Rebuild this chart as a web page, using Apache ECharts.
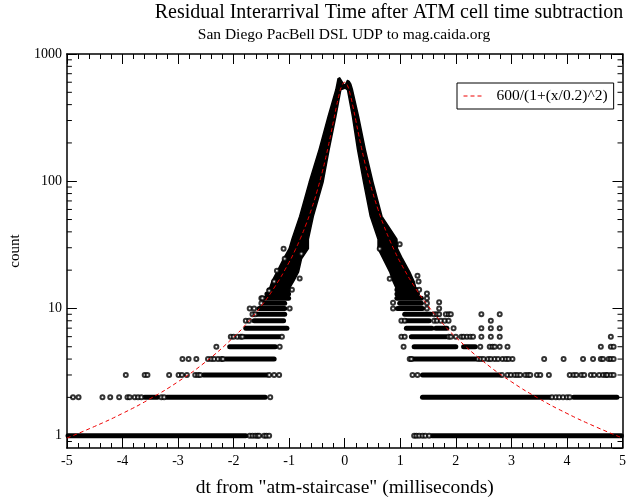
<!DOCTYPE html>
<html>
<head>
<meta charset="utf-8">
<script src="https://cdn.jsdelivr.net/npm/echarts@6/dist/echarts.min.js"></script>
<style>html,body{margin:0;padding:0;background:#fff}#c{width:629px;height:503px}</style>
</head>
<body>
<div id="c"></div>
<script>
// ---- axis ranges / ticks ----
const xMin = -5, xMax = 5, xStep = 1;
const yMin = 0.8, yMax = 1000;
const yMajorTicks = [1, 10, 100, 1000];
const yMinorTicks = [0.9, 2, 3, 4, 5, 6, 7, 8, 9, 20, 30, 40, 50, 60, 70, 80, 90, 200, 300, 400, 500, 600, 700, 800, 900];

// ---- dense rows of points: [xStart, xEnd, count] ----
const denseRows = [
  [-4.98, -1.78, 1], [1.57, 4.98, 1],
  [-3.60, -3.37, 2], [-3.20, -1.43, 2], [1.40, 3.69, 2], [4.12, 4.90, 2],
  [-2.54, -1.40, 3], [1.40, 2.79, 3],
  [-2.14, -1.27, 4], [1.22, 2.35, 4],
  [-2.07, -1.25, 5], [1.25, 2.00, 5], [2.14, 2.35, 5],
  [-1.80, -1.18, 6], [1.20, 1.82, 6],
  [-1.78, -1.04, 7], [1.11, 1.57, 7], [1.64, 1.84, 7],
  [-1.63, -1.10, 8], [1.11, 1.52, 8],
  [-1.57, -1.08, 9], [1.08, 1.55, 9],
  [-1.54, -1.08, 10], [0.95, 1.40, 10],
  [-1.45, -1.08, 11], [0.99, 1.38, 11],
  [-1.45, -1.01, 12], [0.94, 1.38, 12],
  [-1.40, -1.01, 13], [0.94, 1.31, 13],
  [-1.36, -1.01, 14], [0.94, 1.29, 14]
];

// ---- isolated points: x values per count level ----
const pts1 = [-1.71, -1.66, -1.61, -1.57, -1.54, -1.45, -1.41, -1.36, 1.25, 1.29, 1.34, 1.40, 1.45, 1.52];
const pts2 = [-4.89, -4.79, -4.36, -4.22, -4.06, -3.91, -3.87, -3.78, -3.72, -3.66, -3.30, -3.25, -1.34, 3.73, 3.80, 3.86, 3.93, 4.00, 4.05];
const pts3 = [-3.94, -3.60, -3.55, -3.16, -2.99, -2.93, -2.84, -2.69, -2.64, -2.60, -1.36, -1.27, -1.18,
  1.22, 1.31, 2.83, 2.93, 2.99, 3.06, 3.11, 3.16, 3.25, 3.30, 3.34, 3.46, 3.52, 3.675, 4.05, 4.12, 4.17, 4.26, 4.31, 4.43, 4.49, 4.58, 4.65, 4.70, 4.73, 4.79, 4.84];
const pts4 = [-2.92, -2.81, -2.67, -2.46, -2.40, -2.35, -2.28, -2.22, -2.19, 1.17, 1.20,
  2.40, 2.45, 2.50, 2.58, 2.63, 2.70, 2.76, 2.84, 2.90, 2.95, 3.02, 3.59, 3.94, 4.29, 4.47, 4.61, 4.65, 4.75, 4.79, 4.84];
const pts5 = [-2.31, -1.17, 1.06, 2.44, 2.61, 2.66, 2.70, 2.79, 2.93, 4.61, 4.79, 4.84];
const pts6 = [-2.05, -2.00, -1.93, -1.87, -1.84, -1.13, 1.02, 1.08, 1.87, 1.91, 2.00, 2.10, 2.14, 2.20, 2.26, 2.31, 2.46, 2.63, 2.79, 4.79];
const pts7 = [1.96, 2.46, 2.63, 2.79];
const pts8 = [-1.78, -1.72, 1.02, 1.08, 1.61, 1.66, 1.73, 1.80, 1.87, 2.63];
const pts9 = [-1.66, -1.61, 1.61, 1.66, 1.70, 1.82, 1.87, 1.91, 2.46, 2.79];
const pts10 = [-1.71, -1.63, -0.99, 0.87, 1.48, 1.70];
const pts11 = [-1.50, 1.48];
const pts12 = [-1.50, 1.48];
const pts14 = [-0.95, 1.34];
// scattered outliers along the flanks: [x, count]
const flankOutliers = [
  [-1.10, 29.5], [-0.78, 26.9], [-0.81, 17.2], [-1.36, 13.8], [-1.48, 12], [-1.22, 19.8], [-1.27, 16.3], [-1.08, 24.6],
  [1.31, 18.1], [1.33, 16.3], [1.48, 13.1], [1.70, 11.2], [0.87, 11.1], [0.81, 17.1], [0.63, 29.5], [0.99, 32]
];

// ---- outline of the dense central mass: [x, count] ----
const peakMass = [
  [-1.36, 14], [-1.31, 16.3], [-1.22, 19.4], [-1.10, 24.6], [-1.00, 29.5], [-0.95, 35], [-0.81, 53], [-0.64, 98],
  [-0.46, 178], [-0.30, 322], [-0.16, 523], [-0.12, 640], [-0.09, 650], [-0.02, 580], [0.01, 570], [0.05, 620], [0.08, 610],
  [0.11, 580], [0.14, 523], [0.25, 322], [0.37, 178], [0.51, 98], [0.67, 53], [0.94, 35], [0.95, 29.5], [1.04, 24.6],
  [1.17, 19.4], [1.25, 16.3], [1.29, 14], [0.94, 14], [0.87, 16.3], [0.81, 19.4], [0.69, 24.6], [0.60, 29.5], [0.60, 35],
  [0.46, 53], [0.34, 98], [0.23, 178], [0.14, 322], [0.05, 523], [0.01, 540], [-0.07, 523], [-0.16, 322], [-0.28, 178],
  [-0.39, 98], [-0.565, 53], [-0.654, 35], [-0.654, 29.5], [-0.777, 24.6], [-0.83, 19.4], [-0.92, 16.3], [-1.01, 14]
];

// ---- fitted curve 600/(1+(x/0.2)^2) sampled ----
const fitX = [-5, -4.5, -4, -3.5, -3, -2.5, -2, -1.75, -1.5, -1.25, -1, -0.9, -0.8, -0.7, -0.6, -0.5, -0.4, -0.35, -0.3, -0.25, -0.2, -0.15, -0.1, -0.05,
  0, 0.05, 0.1, 0.15, 0.2, 0.25, 0.3, 0.35, 0.4, 0.5, 0.6, 0.7, 0.8, 0.9, 1, 1.25, 1.5, 1.75, 2, 2.5, 3, 3.5, 4, 4.5, 5];
const fitY = [0.958, 1.183, 1.496, 1.953, 2.655, 3.816, 5.94, 7.74, 10.48, 14.98, 23.08, 28.24, 35.29, 45.28, 60, 82.76, 120, 147.7, 184.6, 234.1, 300, 384, 480, 564.7,
  600, 564.7, 480, 384, 300, 234.1, 184.6, 147.7, 120, 82.76, 60, 45.28, 35.29, 28.24, 23.08, 14.98, 10.48, 7.74, 5.94, 3.816, 2.655, 1.953, 1.496, 1.183, 0.958];

const fitName = '600/(1+(x/0.2)^2)';
const titleText = 'Residual Interarrival Time after ATM cell time subtraction';
const subText = 'San Diego PacBell DSL UDP to mag.caida.org';
const xName = 'dt from "atm-staircase" (milliseconds)';
const yName = 'count';

// ---- build ----
const FONT = 'Liberation Serif';
const isoPoints = [];
[[1, pts1], [2, pts2], [3, pts3], [4, pts4], [5, pts5], [6, pts6], [7, pts7], [8, pts8], [9, pts9], [10, pts10], [11, pts11], [12, pts12], [14, pts14]]
  .forEach(([c, arr]) => arr.forEach(x => isoPoints.push([x, c])));
flankOutliers.forEach(p => isoPoints.push(p));

const chart = echarts.init(document.getElementById('c'), null, {renderer: 'canvas'});

const xAxisBase = {
  type: 'value', min: xMin, max: xMax, interval: xStep,
  axisLine: {show: true, onZero: false, lineStyle: {color: '#000', width: 1.5}},
  axisTick: {show: true, inside: true, length: 10, lineStyle: {color: '#000', width: 1}},
  minorTick: {show: true, splitNumber: 5, length: 5, lineStyle: {color: '#000', width: 1}},
  splitLine: {show: false}, minorSplitLine: {show: false}
};
const yAxisBase = {
  type: 'log', logBase: 10, min: yMin, max: yMax,
  axisLine: {show: true, onZero: false, lineStyle: {color: '#000', width: 1.5}},
  axisTick: {show: true, inside: true, length: 10, lineStyle: {color: '#000', width: 1}},
  minorTick: {show: false},
  splitLine: {show: false}
};

const option = {
  animation: false,
  backgroundColor: '#fff',
  title: [
    {text: titleText, left: 389, top: 3, textAlign: 'center', padding: 0,
      textStyle: {fontFamily: FONT, fontSize: 20, fontWeight: 'normal', color: '#000'}},
    {text: subText, left: 344, top: 27, textAlign: 'center', padding: 0,
      textStyle: {fontFamily: FONT, fontSize: 15.5, fontWeight: 'normal', color: '#000'}}
  ],
  legend: {
    data: [fitName], left: 457, top: 83, orient: 'vertical',
    backgroundColor: '#fff', borderColor: '#000', borderWidth: 1, borderRadius: 0,
    padding: [5, 6, 5, 6], itemWidth: 20, itemHeight: 12,
    itemStyle: {opacity: 0, color: 'rgba(0,0,0,0)', borderWidth: 0},
    lineStyle: {width: 1},
    textStyle: {fontFamily: FONT, fontSize: 15.5, color: '#000', padding: [0, 0, 0, 8]}
  },
  grid: {left: 61, right: 3, top: 54, bottom: 53, containLabel: false},
  xAxis: [
    Object.assign({}, xAxisBase, {position: 'bottom',
      axisLabel: {show: true, margin: 6, fontFamily: FONT, fontSize: 14, color: '#000'},
      name: xName, nameLocation: 'middle', nameGap: 30,
      nameTextStyle: {fontFamily: FONT, fontSize: 19.5, color: '#000'}}),
    Object.assign({}, xAxisBase, {position: 'top', axisLabel: {show: false}})
  ],
  yAxis: [
    Object.assign({}, yAxisBase, {position: 'left',
      axisLabel: {show: true, margin: 5, showMinLabel: false, fontFamily: FONT, fontSize: 14, color: '#000',
        formatter: v => (yMajorTicks.indexOf(Math.round(v)) >= 0 && Math.abs(v - Math.round(v)) < 1e-6) ? String(Math.round(v)) : ''},
      name: yName, nameLocation: 'middle', nameGap: 40,
      nameTextStyle: {fontFamily: FONT, fontSize: 15, color: '#000'}}),
    Object.assign({}, yAxisBase, {position: 'right', axisLabel: {show: false}})
  ],
  series: [
    {
      name: 'rows', type: 'custom', coordinateSystem: 'cartesian2d', xAxisIndex: 0, yAxisIndex: 0,
      data: denseRows, encode: {x: [0, 1], y: 2}, silent: true, z: 2,
      renderItem: (params, api) => {
        const a = api.coord([api.value(0), api.value(2)]);
        const b = api.coord([api.value(1), api.value(2)]);
        return {type: 'line', shape: {x1: a[0], y1: a[1], x2: b[0], y2: b[1]},
          style: {stroke: '#000', lineWidth: 5, lineCap: 'round'}};
      }
    },
    {
      name: 'mass', type: 'custom', coordinateSystem: 'cartesian2d', xAxisIndex: 0, yAxisIndex: 0,
      data: [[0, 100]], encode: {x: 0, y: 1}, silent: true, z: 2,
      renderItem: (params, api) => {
        const pts = peakMass.map(p => api.coord(p));
        return {type: 'polygon', shape: {points: pts},
          style: {fill: '#000', stroke: '#000', lineWidth: 1.5, lineJoin: 'round'}};
      }
    },
    {
      name: 'points', type: 'scatter', xAxisIndex: 0, yAxisIndex: 0,
      data: isoPoints, symbol: 'emptyCircle', symbolSize: 4, silent: true, z: 3,
      itemStyle: {color: '#000', borderColor: '#000', borderWidth: 1}
    },
    {
      name: fitName, type: 'line', xAxisIndex: 0, yAxisIndex: 0,
      data: fitX.map((x, i) => [x, fitY[i]]), showSymbol: false, symbol: 'none', smooth: true, z: 5,
      lineStyle: {color: '#ee0000', width: 1, type: [4, 3]},
      itemStyle: {color: '#ee0000'}
    },
    {
      name: 'yminor', type: 'custom', coordinateSystem: 'cartesian2d', xAxisIndex: 0, yAxisIndex: 0,
      data: yMinorTicks.map(v => [0, v]), encode: {x: 0, y: 1}, silent: true, z: 6,
      renderItem: (params, api) => {
        const l = api.coord([xMin, api.value(1)]);
        const r = api.coord([xMax, api.value(1)]);
        const st = {stroke: '#000', lineWidth: 1};
        return {type: 'group', children: [
          {type: 'line', shape: {x1: l[0], y1: l[1], x2: l[0] + 5, y2: l[1]}, style: st},
          {type: 'line', shape: {x1: r[0], y1: r[1], x2: r[0] - 5, y2: r[1]}, style: st}
        ]};
      }
    }
  ]
};
chart.setOption(option);
</script>
</body>
</html>
